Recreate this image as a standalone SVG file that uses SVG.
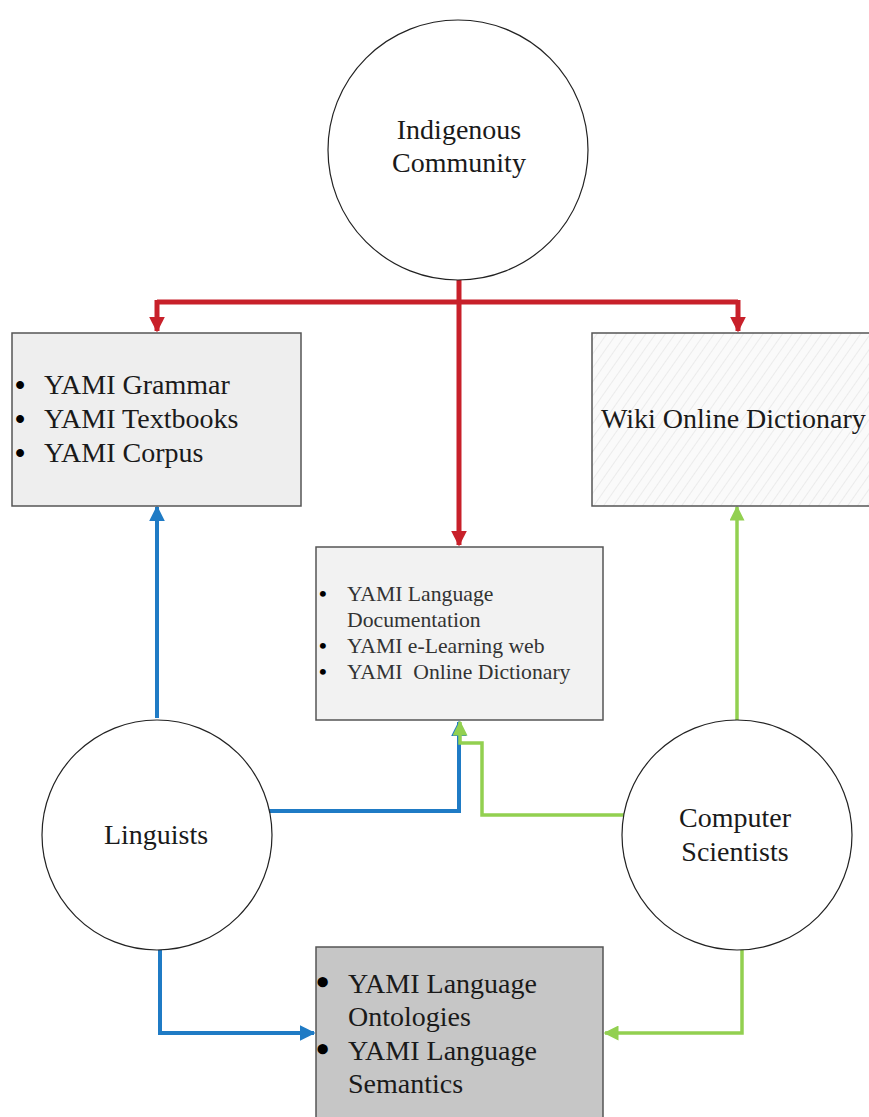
<svg xmlns="http://www.w3.org/2000/svg" width="869" height="1117" viewBox="0 0 869 1117">
<style>
text{font-family:'Liberation Serif','Tinos','DejaVu Serif',serif;fill:#1a1a1a;font-size:28px}
.node circle{fill:#fff;stroke:#222;stroke-width:1.2}
.box{stroke:#555;stroke-width:1.5}
.red{stroke:#c8202a;stroke-width:5;fill:none}
.blue{stroke:#1f7bc5;stroke-width:4;fill:none}
.green{stroke:#92d050;stroke-width:3.5;fill:none}
.bl{font-size:29px;font-weight:bold;fill:#000}
.bb{font-size:38px;font-weight:bold;fill:#000}
.bs{font-size:22px;font-weight:bold;fill:#000}
.sm{font-size:21.7px;fill:#333}
</style>
<defs>
<pattern id="hatch" width="8" height="8" patternUnits="userSpaceOnUse" patternTransform="rotate(35)">
<rect width="8" height="8" fill="#fafafa"/>
<line x1="0" y1="0" x2="0" y2="8" stroke="#dcdcdc" stroke-width="1"/>
</pattern>
<marker id="mr" viewBox="0 0 10 10" refX="9" refY="5" markerWidth="16" markerHeight="16" markerUnits="userSpaceOnUse" orient="auto"><path d="M0,0 L10,5 L0,10 z" fill="#c8202a"/></marker>
<marker id="mb" viewBox="0 0 10 10" refX="9" refY="5" markerWidth="16" markerHeight="16" markerUnits="userSpaceOnUse" orient="auto"><path d="M0,0 L10,5 L0,10 z" fill="#1f7bc5"/></marker>
<marker id="mg" viewBox="0 0 10 10" refX="9" refY="5" markerWidth="15" markerHeight="15" markerUnits="userSpaceOnUse" orient="auto"><path d="M0,0 L10,5 L0,10 z" fill="#92d050"/></marker>
</defs>
<rect width="869" height="1117" fill="#fff"/>

<g id="connectors">
<path class="red" d="M459,280 V302"/>
<path class="red" d="M459,302 V545" marker-end="url(#mr)"/>
<path class="red" d="M157,302 H738"/>
<path class="red" d="M157,300 V331" marker-end="url(#mr)"/>
<path class="red" d="M738,300 V331" marker-end="url(#mr)"/>
<path class="blue" d="M157,718 V507" marker-end="url(#mb)"/>
<path class="blue" d="M268,811 H459 V722" marker-end="url(#mb)"/>
<path class="blue" d="M160,950 V1033 H314" marker-end="url(#mb)"/>
<path class="green" d="M737,722 V507" marker-end="url(#mg)"/>
<path class="green" d="M626,815 H482 V743 H460 V722" marker-end="url(#mg)"/>
<path class="green" d="M742,945 V1033 H605" marker-end="url(#mg)"/>
</g>

<g id="indigenous" class="node">
<circle cx="458" cy="150" r="130"/>
<text text-anchor="middle" x="459" y="139">Indigenous</text>
<text text-anchor="middle" x="459" y="172">Community</text>
</g>

<g id="grammar">
<rect class="box" x="12" y="333" width="289" height="173" fill="#eeeeee"/>
<text class="bl" x="15" y="395">•</text>
<text class="bl" x="15" y="429">•</text>
<text class="bl" x="15" y="463">•</text>
<text x="44" y="394">YAMI Grammar</text>
<text x="44" y="428">YAMI Textbooks</text>
<text x="44" y="462">YAMI Corpus</text>
</g>

<g id="wiki">
<rect class="box" x="592" y="333" width="290" height="173" fill="url(#hatch)"/>
<text x="601" y="428">Wiki Online Dictionary</text>
</g>

<g id="documentation">
<rect class="box" x="316" y="547" width="287" height="173" fill="#f2f2f2"/>
<text class="bs" x="319" y="601">•</text>
<text class="bs" x="319" y="653">•</text>
<text class="bs" x="319" y="679">•</text>
<text class="sm" x="347" y="601">YAMI Language</text>
<text class="sm" x="347" y="627">Documentation</text>
<text class="sm" x="347" y="653">YAMI e-Learning web</text>
<text class="sm" x="347" y="679" xml:space="preserve">YAMI  Online Dictionary</text>
</g>

<g id="linguists" class="node">
<circle cx="157" cy="835" r="115"/>
<text text-anchor="middle" x="156" y="844">Linguists</text>
</g>

<g id="computer-scientists" class="node">
<circle cx="737" cy="835" r="115"/>
<text text-anchor="middle" x="735" y="827">Computer</text>
<text text-anchor="middle" x="735" y="861">Scientists</text>
</g>

<g id="ontologies">
<rect class="box" x="316" y="947" width="287" height="190" fill="#c6c6c6"/>
<text class="bb" x="316" y="995">•</text>
<text class="bb" x="316" y="1062">•</text>
<text x="348" y="993">YAMI Language</text>
<text x="348" y="1026">Ontologies</text>
<text x="348" y="1060">YAMI Language</text>
<text x="348" y="1093">Semantics</text>
</g>
</svg>
